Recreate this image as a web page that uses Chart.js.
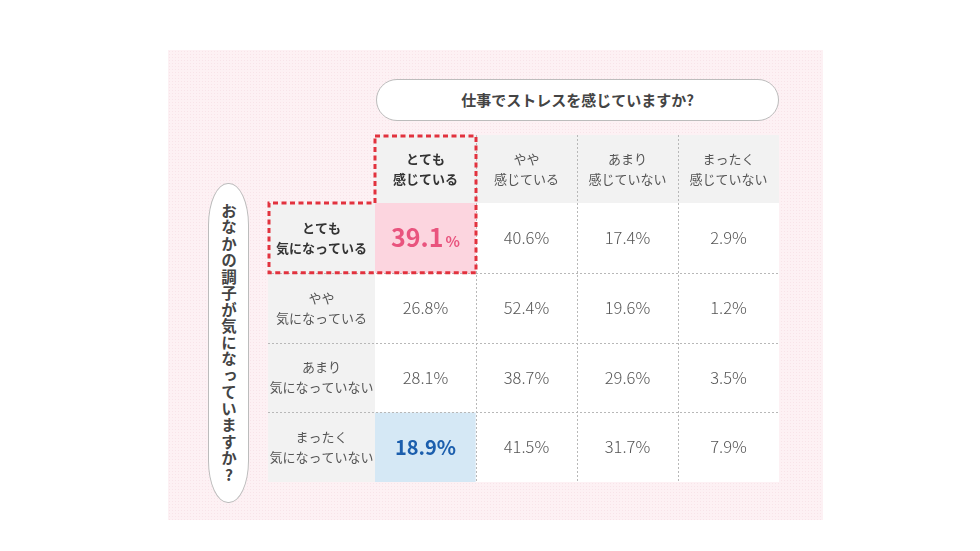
<!DOCTYPE html>
<html lang="ja">
<head>
<meta charset="utf-8">
<script src="https://cdn.jsdelivr.net/npm/chart.js@4.4.1/dist/chart.umd.min.js"></script>
<style>
  html, body { margin: 0; padding: 0; background: #fff; }
  body { width: 980px; height: 551px; position: relative; overflow: hidden; font-family: 'Noto Sans CJK JP', sans-serif; }
  .panel {
    position: absolute; left: 168px; top: 50px; width: 655px; height: 470px;
    background-color: #fdf1f4;
    background-image: radial-gradient(#f8e4e9 0.6px, transparent 0.9px);
    background-size: 3px 3px;
  }
  .qtop {
    position: absolute; left: 376px; top: 79px; width: 401px; height: 40px;
    border: 1px solid #bcbcbc; border-radius: 21px; background: #fff;
    text-align: center; line-height: 40px; font-size: 15px; font-weight: bold; color: #444;
  }
  .qside {
    position: absolute; left: 208px; top: 183px; width: 39px; height: 318px;
    border: 1px solid #bcbcbc; border-radius: 20px / 42px; background: #fff;
    writing-mode: vertical-rl; text-orientation: upright;
    text-align: center; line-height: 39px; font-size: 15.5px; font-weight: bold; color: #444; letter-spacing: 1px;
  }
  #wrap { position: absolute; left: 0; top: 0; width: 980px; height: 551px; }
</style>
</head>
<body>
<div class="panel"></div>
<div class="qtop">仕事でストレスを感じていますか?</div>
<div class="qside">おなかの調子が気になっていますか?</div>
<div id="wrap"><canvas id="matrix" width="980" height="551"></canvas></div>
<script>
// column headers: 仕事でストレスを感じていますか?
const colLabels = [
  ['とても', '感じている'],
  ['やや', '感じている'],
  ['あまり', '感じていない'],
  ['まったく', '感じていない']
];
// row headers: おなかの調子が気になっていますか?
const rowLabels = [
  ['とても', '気になっている'],
  ['やや', '気になっている'],
  ['あまり', '気になっていない'],
  ['まったく', '気になっていない']
];

const veryWorried = [39.1, 40.6, 17.4, 2.9];
const somewhatWorried = [26.8, 52.4, 19.6, 1.2];
const notVeryWorried = [28.1, 38.7, 29.6, 3.5];
const notWorried = [18.9, 41.5, 31.7, 7.9];

const tableRows = [veryWorried, somewhatWorried, notVeryWorried, notWorried];

const FONT = '"Noto Sans CJK JP", "Noto Sans", sans-serif';
const LABEL_W = 107;
const HEAD_H = 68;

function cellColor(r, c) {
  if (r === 0 && c === 0) return '#fcd5df';
  if (r === 3 && c === 0) return '#d5e8f5';
  return '#ffffff';
}

function twoLines(ctx, lines, x, y, bold) {
  ctx.font = (bold ? 'bold ' : '') + '13px ' + FONT;
  ctx.fillStyle = bold ? '#333' : '#555';
  ctx.textAlign = 'center';
  ctx.textBaseline = 'middle';
  ctx.fillText(lines[0], x, y - 10);
  ctx.fillText(lines[1], x, y + 10);
}

const tablePlugin = {
  id: 'tableDecor',
  beforeDatasetsDraw(chart) {
    const ctx = chart.ctx;
    const area = chart.chartArea;
    ctx.save();
    ctx.fillStyle = '#fff';
    ctx.fillRect(area.left, area.top, area.right - area.left, area.bottom - area.top);
    ctx.fillStyle = '#f2f2f2';
    ctx.fillRect(area.left, area.top - HEAD_H, area.right - area.left, HEAD_H);
    ctx.fillRect(area.left - LABEL_W, area.top, LABEL_W, area.bottom - area.top);
    ctx.restore();
  },
  afterDatasetsDraw(chart) {
    const ctx = chart.ctx;
    const area = chart.chartArea;
    const xs = chart.scales.x;
    const ys = chart.scales.y;
    const colW = xs.getPixelForValue(1) - xs.getPixelForValue(0);
    const headTop = area.top - HEAD_H;
    const labelLeft = area.left - LABEL_W;

    ctx.save();
    // dashed grid
    ctx.strokeStyle = '#b8b8b8';
    ctx.lineWidth = 1;
    ctx.setLineDash([2, 2]);
    for (let c = 1; c < colLabels.length; c++) {
      const x = Math.round(xs.getPixelForValue(c) - colW / 2) + 0.5;
      ctx.beginPath();
      ctx.moveTo(x, headTop);
      ctx.lineTo(x, area.bottom);
      ctx.stroke();
    }
    for (let r = 1; r < rowLabels.length; r++) {
      const y = Math.round(ys.getPixelForValue(r)) + 0.5;
      ctx.beginPath();
      ctx.moveTo(labelLeft, y);
      ctx.lineTo(area.right, y);
      ctx.stroke();
    }
    ctx.setLineDash([]);

    // headers
    colLabels.forEach((lab, c) => {
      twoLines(ctx, lab, xs.getPixelForValue(c), headTop + HEAD_H / 2, c === 0);
    });
    rowLabels.forEach((lab, r) => {
      twoLines(ctx, lab, labelLeft + LABEL_W / 2, ys.getPixelForValue(r + 0.5), r === 0);
    });

    // values
    ctx.textBaseline = 'middle';
    chart.data.datasets.forEach((ds, r) => {
      ds.values.forEach((v, c) => {
        const x = xs.getPixelForValue(c);
        const y = ys.getPixelForValue(r + 0.5);
        const txt = v.toFixed(1);
        if (r === 0 && c === 0) {
          ctx.font = 'bold 25px ' + FONT;
          const w1 = ctx.measureText(txt).width;
          ctx.font = 'bold 15px ' + FONT;
          const w2 = ctx.measureText('%').width;
          const start = x - (w1 + w2 + 2) / 2;
          ctx.fillStyle = '#e9547e';
          ctx.textAlign = 'left';
          ctx.font = 'bold 25px ' + FONT;
          ctx.fillText(txt, start, y);
          ctx.font = 'bold 15px ' + FONT;
          ctx.fillText('%', start + w1 + 2, y + 3);
        } else if (r === 3 && c === 0) {
          ctx.font = 'bold 20px ' + FONT;
          ctx.fillStyle = '#1b5ead';
          ctx.textAlign = 'center';
          ctx.fillText(txt + '%', x, y);
        } else {
          ctx.font = '300 16.5px ' + FONT;
          ctx.fillStyle = '#555';
          ctx.textAlign = 'center';
          ctx.fillText(txt + '%', x, y);
        }
      });
    });

    // red dashed outline round the top-left highlight
    const c1Right = area.left + colW;
    const rowBottom = ys.getPixelForValue(1);
    ctx.strokeStyle = '#e2323e';
    ctx.lineWidth = 3;
    ctx.setLineDash([5, 3.5]);
    ctx.beginPath();
    ctx.moveTo(area.left, headTop + 1);
    ctx.lineTo(c1Right, headTop + 1);
    ctx.lineTo(c1Right, rowBottom);
    ctx.lineTo(labelLeft + 1, rowBottom);
    ctx.lineTo(labelLeft + 1, area.top);
    ctx.lineTo(area.left, area.top);
    ctx.closePath();
    ctx.stroke();
    ctx.restore();
  }
};

function drawChart() {
  new Chart(document.getElementById('matrix'), {
    type: 'bar',
    data: {
      labels: colLabels.map(l => l.join('')),
      datasets: tableRows.map((vals, r) => ({
        label: rowLabels[r].join(''),
        data: vals.map(() => [r, r + 1]),
        values: vals,
        backgroundColor: vals.map((v, c) => cellColor(r, c)),
        borderWidth: 0,
        barPercentage: 1,
        categoryPercentage: 1,
        grouped: false
      }))
    },
    options: {
      responsive: false,
      animation: false,
      layout: { padding: { left: 375, right: 201, top: 203, bottom: 69 } },
      plugins: {
        legend: { display: false },
        tooltip: { enabled: false }
      },
      scales: {
        x: { display: false, offset: true, grid: { display: false } },
        y: { display: false, min: 0, max: 4, reverse: true }
      }
    },
    plugins: [tablePlugin]
  });
}

document.fonts.ready.then(drawChart);
</script>
</body>
</html>
